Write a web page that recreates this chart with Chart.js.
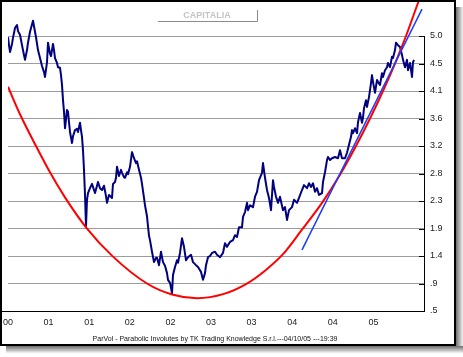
<!DOCTYPE html>
<html><head><meta charset="utf-8">
<script src="https://cdn.jsdelivr.net/npm/chart.js@4.4.1/dist/chart.umd.min.js"></script>
<style>html,body{margin:0;padding:0;background:#fff}canvas{display:block}</style>
</head><body>
<canvas id="c" width="463" height="357"></canvas>
<script>
// Price series: days since the first bar, closing value
const priceDays = [
  0,5,10,20,25,35,45,50,60,70,
  80,85,95,100,110,125,130,140,150,160,
  170,180,185,195,200,210,215,225,230,235,
  245,250,260,265,270,275,280,285,290,295,
  300,305,310,320,325,335,345,350,360,365,
  370,375,380,385,390,395,400,410,420,430,
  435,445,450,460,470,480,490,495,505,520,
  525,535,540,545,555,565,570,580,585,595,
  600,610,620,630,640,645,655,665,670,680,
  685,695,705,710,720,730,740,745,755,765,
  775,785,795,800,810,815,820,825,835,845,
  850,860,870,880,890,900,915,925,940,950,
  965,975,985,990,1000,1010,1020,1035,1045,1060,
  1075,1085,1095,1110,1125,1135,1145,1155,1170,1175,
  1185,1195,1200,1210,1225,1235,1245,1255,1270,1275,
  1285,1295,1305,1315,1325,1330,1340,1350,1360,1375,
  1385,1395,1405,1420,1430,1445,1455,1470,1480,1495,
  1505,1515,1525,1535,1545,1555,1570,1575,1585,1595,
  1600,1610,1620,1635,1650,1660,1670,1685,1695,1705,
  1715,1720,1725,1735,1745,1750,1760,1770,1775,1780,
  1790,1795,1805,1815,1820,1825,1835,1845,1850,1860,
  1870,1875,1885,1895,1900,1910,1920,1925,1935,1940,
  1950,1960,1970,1975,1985,1995,2000,2010,2020,2025,
  2030
];
const priceValues = [
  4.98,4.85,4.74,4.87,4.97,5.13,5.18,5.08,5.02,4.85,
  4.69,4.61,4.77,4.89,5.07,5.25,5.16,4.98,4.77,4.64,
  4.51,4.41,4.33,4.57,4.89,4.71,4.67,4.87,4.77,4.64,
  4.56,4.49,4.48,4.36,4.20,3.95,3.76,3.49,3.63,3.79,
  3.76,3.59,3.43,3.25,3.36,3.46,3.48,3.43,3.58,3.46,
  3.35,3.13,2.81,2.40,1.89,2.32,2.43,2.51,2.58,2.48,
  2.43,2.55,2.61,2.51,2.48,2.55,2.38,2.27,2.40,2.35,
  2.58,2.61,2.68,2.86,2.71,2.81,2.76,2.69,2.68,2.77,
  2.74,2.86,3.10,3.00,2.92,2.95,2.81,2.68,2.58,2.35,
  2.23,2.05,1.73,1.66,1.47,1.30,1.37,1.37,1.25,1.47,
  1.30,1.24,1.12,1.01,0.96,0.88,0.79,1.09,1.22,1.33,
  1.29,1.45,1.69,1.55,1.33,1.38,1.42,1.30,1.25,1.22,
  1.14,1.01,1.12,1.25,1.38,1.40,1.45,1.47,1.42,1.38,
  1.45,1.61,1.55,1.63,1.66,1.74,1.71,1.87,1.87,2.04,
  2.12,2.27,2.15,2.23,2.20,2.37,2.45,2.64,2.76,2.92,
  2.68,2.48,2.35,2.15,2.64,2.53,2.37,2.27,2.37,2.15,
  2.20,1.99,2.15,2.20,2.32,2.27,2.35,2.48,2.56,2.51,
  2.59,2.53,2.59,2.45,2.51,2.40,2.43,2.61,2.77,2.97,
  3.02,2.97,3.00,3.02,3.00,3.13,3.00,3.00,3.09,3.22,
  3.35,3.46,3.41,3.49,3.41,3.59,3.74,3.58,3.67,3.82,
  3.95,3.84,4.00,4.23,4.36,4.25,4.07,4.28,4.25,4.20,
  4.39,4.33,4.44,4.49,4.56,4.49,4.66,4.64,4.77,4.89,
  4.85,4.82,4.69,4.61,4.49,4.61,4.44,4.56,4.33,4.57,
  4.61
];
// Parabolic involute (red)
const curveDays   = [0,60,140,210,285,390,525,695,820,945,1080,1190,1285,1375,1465,1570,1660,1740,1810,1875,1935,1990,2050,2080];
const curveValues = [4.17,3.72,3.20,2.77,2.36,1.87,1.39,0.95,0.77,0.71,0.78,0.94,1.16,1.43,1.81,2.27,2.73,3.20,3.65,4.10,4.55,5.00,5.54,5.79];
// Tangent line (blue)
const lineDays   = [1470, 2070];
const lineValues = [1.50, 5.44];
// Axes
const yTickValues = [0.5,0.95,1.4,1.85,2.3,2.75,3.2,3.65,4.1,4.55,5.0];
const yTickLabels = ['.5','.9','1.4','1.9','2.3','2.8','3.2','3.6','4.1','4.5','5.0'];
const xTickDays   = [0,203,406,609,812,1015,1218,1421,1624,1827];
const xTickLabels = ['00','01','01','02','02','03','03','04','04','05'];
const xMaxDay = 2080;
const yMin = 0.5, yMax = 5.573;
const titleText  = 'CAPITALIA';
const footerText = 'ParVol - Parabolic Involutes by TK Trading Knowledge S.r.l.---04/10/05 ---19:39';

const toXY = (xs, ys) => xs.map((x, i) => ({x: x, y: ys[i]}));

const decor = {
  id: 'decor',
  beforeDraw(chart) {
    const c = chart.ctx;
    c.save(); c.fillStyle = '#ffffff'; c.fillRect(0, 0, chart.width, chart.height); c.restore();
  },
  afterDraw(chart) {
    const c = chart.ctx, a = chart.chartArea, ys = chart.scales.y;
    c.save();
    // right axis line and tick marks
    const yTop = ys.getPixelForValue(yTickValues[yTickValues.length - 1]);
    const yBot = ys.getPixelForValue(yTickValues[0]);
    c.strokeStyle = '#000'; c.lineWidth = 1;
    c.beginPath(); c.moveTo(a.right + 0.5, yTop); c.lineTo(a.right + 0.5, yBot); c.stroke();
    yTickValues.forEach(v => {
      const p = Math.round(ys.getPixelForValue(v)) + 0.5;
      c.beginPath(); c.moveTo(a.right - 5, p); c.lineTo(a.right + 1, p); c.stroke();
    });
    // bottom baseline
    c.beginPath(); c.moveTo(1, Math.round(yBot) + 0.5); c.lineTo(a.right + 1, Math.round(yBot) + 0.5); c.stroke();
    // title box
    c.strokeStyle = '#8c8c8c'; c.lineWidth = 1;
    c.beginPath(); c.moveTo(158, 21.5); c.lineTo(257.5, 21.5); c.lineTo(257.5, 10); c.stroke();
    c.fillStyle = '#c4c4c4'; c.font = 'bold 9px "Liberation Sans", Arial, sans-serif';
    c.textAlign = 'center'; c.textBaseline = 'middle';
    c.fillText(titleText, 207, 16);
    // footer
    c.fillStyle = '#111'; c.font = '7px "Liberation Sans", Arial, sans-serif';
    c.fillText(footerText, 215, 339);
    // frame
    c.strokeStyle = '#000'; c.lineWidth = 2;
    c.strokeRect(1, 1, 454, 344);
    // drop shadow
    let g = c.createLinearGradient(456, 0, 463, 0);
    g.addColorStop(0, '#6e6e6e'); g.addColorStop(1, '#f4f4f4');
    c.fillStyle = g; c.fillRect(456, 7, 7, 346);
    g = c.createLinearGradient(0, 346, 0, 353);
    g.addColorStop(0, '#6e6e6e'); g.addColorStop(1, '#f4f4f4');
    c.fillStyle = g; c.fillRect(6, 346, 457, 7);
    c.restore();
  }
};

new Chart(document.getElementById('c'), {
  type: 'line',
  data: {
    datasets: [
      { data: toXY(lineDays, lineValues), borderColor: '#1a3cff', borderWidth: 1.5, pointRadius: 0, tension: 0 },
      { data: toXY(curveDays, curveValues), borderColor: '#ff0000', borderWidth: 2, pointRadius: 0, cubicInterpolationMode: 'monotone' },
      { data: toXY(priceDays, priceValues), borderColor: '#000080', borderWidth: 2, pointRadius: 0, tension: 0, borderJoinStyle: 'round' }
    ]
  },
  options: {
    responsive: false,
    devicePixelRatio: 1,
    animation: false,
    layout: { padding: { left: 8, right: 8, top: 1, bottom: 0 } },
    plugins: { legend: { display: false }, tooltip: { enabled: false }, title: { display: false } },
    scales: {
      x: {
        type: 'linear', min: 0, max: xMaxDay,
        afterBuildTicks: s => { s.ticks = xTickDays.map(v => ({ value: v })); },
        afterFit: s => { s.height = 46; s.paddingLeft = 0; s.paddingRight = 0; },
        grid: { display: false, drawTicks: false },
        border: { display: false },
        ticks: {
          autoSkip: false, maxRotation: 0, padding: 6, color: '#222',
          font: { family: '"Liberation Sans", Arial, sans-serif', size: 9 },
          callback: (v, i) => xTickLabels[i]
        }
      },
      y: {
        type: 'linear', position: 'right', min: yMin, max: yMax,
        afterBuildTicks: s => { s.ticks = yTickValues.map(v => ({ value: v })); },
        afterFit: s => { s.width = 31; s.paddingTop = 0; s.paddingBottom = 0; },
        grid: { color: '#9c9c9c', lineWidth: 1, drawTicks: false },
        border: { display: false },
        ticks: {
          padding: 6, color: '#222',
          font: { family: '"Liberation Sans", Arial, sans-serif', size: 9 },
          callback: (v, i) => yTickLabels[i]
        }
      }
    }
  },
  plugins: [decor]
});
</script>
</body></html>
